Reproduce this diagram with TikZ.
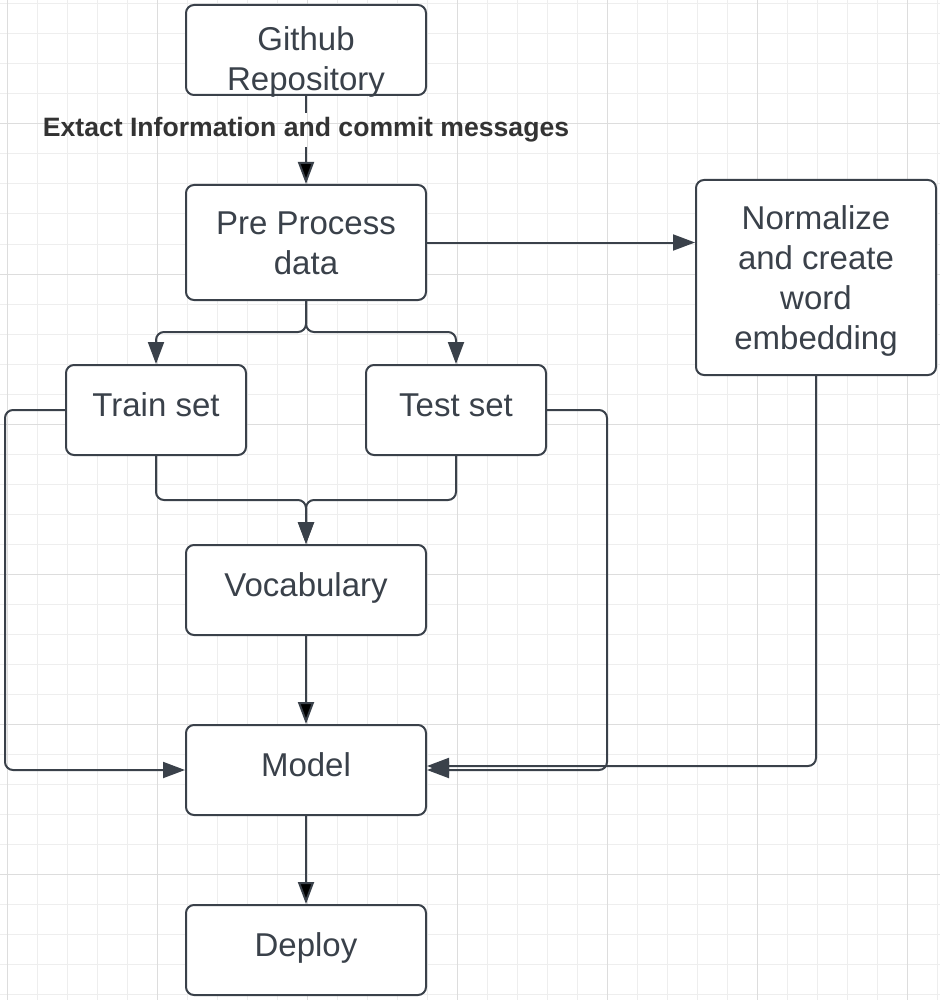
\documentclass[tikz,border=0pt]{standalone}
\usepackage{fontspec}
\setmainfont{Liberation Sans}
\usetikzlibrary{positioning, arrows.meta}
\definecolor{lineGray}{HTML}{3A414A}
\definecolor{labelGray}{HTML}{333333}
\definecolor{gridMinor}{HTML}{EEEEEE}
\definecolor{gridMajor}{HTML}{DDDDDD}

\begin{document}
\begin{tikzpicture}[x=1pt, y=-1pt,
    box/.style={draw=lineGray, line width=2pt, rounded corners=8pt, fill=white,
        text=lineGray, align=center, minimum width=240pt, minimum height=90pt,
        inner sep=0pt, font=\fontsize{33}{40}\selectfont,
        text height=29.9pt, text depth=17.9pt},
    smallbox/.style={box, minimum width=180pt},
    lbl/.style={text=labelGray, inner sep=4.5pt,
        font=\bfseries\fontsize{26.6}{30}\selectfont},
    link/.style={draw=lineGray, line width=2pt, rounded corners=8pt},
    arr/.style={link, -{Triangle[length=22pt, width=16pt]}},
    gridminor/.style={draw=gridMinor, line width=1pt},
    gridmajor/.style={draw=gridMajor, line width=1pt}]
    \useasboundingbox (0,0) rectangle (940,1000);
    % background grid
    \foreach \x in {7,37,...,937} \draw[gridminor] (\x,0) -- (\x,1000);
    \foreach \y in {4,34,...,994} \draw[gridminor] (0,\y) -- (940,\y);
    \foreach \x in {7,157,...,907} \draw[gridmajor] (\x,0) -- (\x,1000);
    \foreach \y in {124,274,...,874} \draw[gridmajor] (0,\y) -- (940,\y);

    \node[box, text height=82pt, text depth=0pt] (git) at (306,50) {Github\\Repository};
    \node[lbl, anchor=base] (extract) at (306,137) {Extact Information and commit messages};
    \node[box, minimum height=115pt, text height=69.9pt, text depth=6.9pt] (pre) at (306,242.5) {Pre Process\\data};
    \node[box, minimum height=195pt, text height=149.9pt, text depth=6.9pt] (norm) at (816,277.5) {Normalize\\and create\\word\\embedding};
    \node[smallbox] (train) at (156,410) {Train set};
    \node[smallbox] (test) at (456,410) {Test set};
    \node[box] (voc) at (306,590) {Vocabulary};
    \node[box] (model) at (306,770) {Model};
    \node[box] (deploy) at (306,950) {Deploy};
    \coordinate (split) at (306,332);
    \coordinate (merge) at (306,500);

    \draw[link] (git) -- (extract);
    \path[arr]
        (extract) edge (pre)
        (voc) edge (model)
        (model) edge (deploy);
    \draw[arr] (pre.east) -- (pre.east -| norm.west);
    \draw[arr] (pre.south) -- (split) -| (train.north);
    \draw[arr] (pre.south) -- (split) -| (test.north);
    \draw[arr] (train.south) |- (merge) -- (voc.north);
    \draw[arr] (test.south) |- (merge) -- (voc.north);
    \draw[arr] (norm.south) |- ([yshift=4pt]model.east);
    \draw[arr] (test.east) -- ++(60,0) |- (model.east);
    \draw[arr] (train.west) -- ++(-60,0) |- (model.west);
\end{tikzpicture}
\end{document}
